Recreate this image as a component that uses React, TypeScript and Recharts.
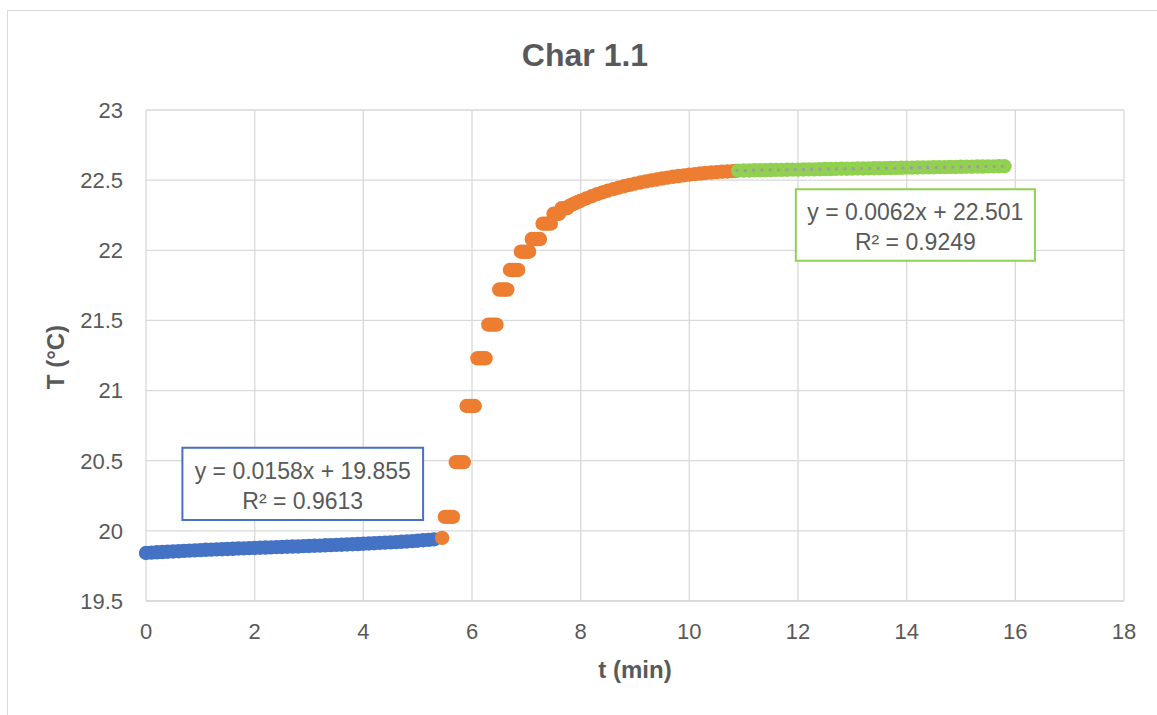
import React from 'react';
import { ScatterChart, Scatter, XAxis, YAxis, CartesianGrid, ReferenceArea } from 'recharts';

const FONT = '"Liberation Sans", Arial, sans-serif';
const TEXT = '#595959';
const GRID = '#d9d9d9';
const BLUE = '#4472C4';
const ORANGE = '#ED7D31';
const GREEN = '#92D050';

const xTicks = [0, 2, 4, 6, 8, 10, 12, 14, 16, 18];
const yTicks = [19.5, 20, 20.5, 21, 21.5, 22, 22.5, 23];

// Series 1 (before mixing)
const tBlue = [0, 0.1, 0.2, 0.3, 0.4, 0.5, 0.6, 0.7, 0.8, 0.9, 1.0, 1.1, 1.2, 1.3, 1.4, 1.5, 1.6, 1.7, 1.8, 1.9,
  2.0, 2.1, 2.2, 2.3, 2.4, 2.5, 2.6, 2.7, 2.8, 2.9, 3.0, 3.1, 3.2, 3.3, 3.4, 3.5, 3.6, 3.7, 3.8, 3.9,
  4.0, 4.1, 4.2, 4.3, 4.4, 4.5, 4.6, 4.7, 4.8, 4.9, 5.0, 5.1, 5.2, 5.3];
const TBlue = [19.842, 19.845, 19.847, 19.849, 19.851, 19.853, 19.855, 19.857, 19.859, 19.861,
  19.863, 19.865, 19.866, 19.868, 19.869, 19.871, 19.872, 19.874, 19.875, 19.877,
  19.878, 19.880, 19.881, 19.882, 19.884, 19.885, 19.887, 19.888, 19.889, 19.891,
  19.892, 19.894, 19.895, 19.897, 19.898, 19.900, 19.901, 19.903, 19.905, 19.906,
  19.908, 19.910, 19.912, 19.914, 19.916, 19.918, 19.920, 19.922, 19.924, 19.927,
  19.930, 19.933, 19.936, 19.939];

// Series 2 (rise)
const tOrange = [5.45, 5.50, 5.55, 5.60, 5.65, 5.70, 5.75, 5.80, 5.85, 5.90, 5.95, 6.00, 6.05,
  6.10, 6.15, 6.20, 6.25, 6.30, 6.35, 6.40, 6.45, 6.50, 6.55, 6.60, 6.65, 6.70, 6.75, 6.80, 6.85,
  6.90, 6.95, 7.00, 7.05, 7.10, 7.15, 7.20, 7.25, 7.30, 7.35, 7.40, 7.45, 7.50, 7.55, 7.60,
  7.65, 7.70, 7.75, 7.80, 7.85, 7.90, 7.95, 8.0, 8.1, 8.2, 8.3, 8.4, 8.5, 8.6, 8.7, 8.8, 8.9,
  9.0, 9.1, 9.2, 9.3, 9.4, 9.5, 9.6, 9.7, 9.8, 9.9, 10.0, 10.1, 10.2, 10.3, 10.4, 10.5, 10.6,
  10.7, 10.8, 10.85];
const TOrange = [19.95, 20.10, 20.10, 20.10, 20.10, 20.49, 20.49, 20.49, 20.49, 20.89, 20.89, 20.89, 20.89,
  21.23, 21.23, 21.23, 21.23, 21.47, 21.47, 21.47, 21.47, 21.72, 21.72, 21.72, 21.72, 21.86, 21.86, 21.86, 21.86,
  21.99, 21.99, 21.99, 21.99, 22.08, 22.08, 22.08, 22.08, 22.19, 22.19, 22.19, 22.19, 22.26, 22.26, 22.26,
  22.30, 22.30, 22.30, 22.318, 22.327, 22.336, 22.345, 22.353, 22.369, 22.385, 22.400, 22.413, 22.425, 22.436,
  22.447, 22.457, 22.466, 22.475, 22.483, 22.491, 22.498, 22.505, 22.512, 22.518, 22.524, 22.529, 22.534,
  22.539, 22.543, 22.547, 22.551, 22.554, 22.557, 22.560, 22.562, 22.564, 22.565];

// Series 3 (after mixing)
const tGreen = [10.9, 11.0, 11.1, 11.2, 11.3, 11.4, 11.5, 11.6, 11.7, 11.8, 11.9, 12.0, 12.1, 12.2, 12.3, 12.4,
  12.5, 12.6, 12.7, 12.8, 12.9, 13.0, 13.1, 13.2, 13.3, 13.4, 13.5, 13.6, 13.7, 13.8, 13.9, 14.0, 14.1, 14.2,
  14.3, 14.4, 14.5, 14.6, 14.7, 14.8, 14.9, 15.0, 15.1, 15.2, 15.3, 15.4, 15.5, 15.6, 15.7, 15.8];
const TGreen = [22.568, 22.569, 22.569, 22.570, 22.571, 22.571, 22.572, 22.573, 22.573, 22.574, 22.575, 22.575,
  22.576, 22.577, 22.577, 22.578, 22.579, 22.579, 22.580, 22.581, 22.581, 22.582, 22.583, 22.583, 22.584,
  22.585, 22.585, 22.586, 22.587, 22.587, 22.588, 22.589, 22.589, 22.590, 22.591, 22.591, 22.592, 22.593,
  22.593, 22.594, 22.594, 22.595, 22.596, 22.596, 22.597, 22.597, 22.598, 22.598, 22.599, 22.599];

// Trendline coefficients (from the chart's equations)
const greenSlope = 0.0062;
const greenIntercept = 22.501;

const blueEq = ['y = 0.0158x + 19.855', 'R² = 0.9613'];
const greenEq = ['y = 0.0062x + 22.501', 'R² = 0.9249'];

// Annotation box placement (data units)
const blueBox = { x1: 0.67, x2: 5.1, y1: 20.077, y2: 20.593 };
const greenBox = { x1: 11.96, x2: 16.36, y1: 21.926, y2: 22.435 };

const toPts = (t: number[], T: number[]) => t.map((x, i) => ({ t: x, T: T[i] }));
const blueData = toPts(tBlue, TBlue);
const orangeData = toPts(tOrange, TOrange);
const greenData = toPts(tGreen, TGreen);
const gStart = tGreen[0] - 0.05;
const gEnd = tGreen[tGreen.length - 1];
const greenTrend = [
  { t: gStart, T: greenSlope * gStart + greenIntercept },
  { t: gEnd, T: greenSlope * gEnd + greenIntercept },
];

const dot = (color: string) => (props: any) => (
  <circle cx={props.cx} cy={props.cy} r={7.2} fill={color} />
);

const eqLabel = (lines: string[]) => (p: any) => {
  const vb = p.viewBox || {};
  const cx = vb.x + vb.width / 2;
  return (
    <g>
      <text x={cx} y={vb.y + 23} textAnchor="middle" dominantBaseline="central" fill={TEXT} fontSize={23} fontFamily={FONT}>{lines[0]}</text>
      <text x={cx} y={vb.y + 53} textAnchor="middle" dominantBaseline="central" fill={TEXT} fontSize={23} fontFamily={FONT}>{lines[1]}</text>
    </g>
  );
};

export default function App() {
  return (
    <div style={{ position: 'absolute', left: 0, top: 0, width: 1157, height: 715, overflow: 'hidden', background: '#fff', fontFamily: FONT }}>
      <div style={{ position: 'absolute', left: 7, top: 10, width: 1300, height: 900, border: '1.5px solid #d9d9d9', boxSizing: 'border-box' }} />
      <div style={{ position: 'absolute', left: 0, top: 35, width: 1170, textAlign: 'center', fontSize: 32, fontWeight: 'bold', color: TEXT, lineHeight: '40px' }}>Char 1.1</div>
      <div style={{ position: 'absolute', left: 0, top: 655, width: 1270, textAlign: 'center', fontSize: 24, fontWeight: 'bold', color: TEXT, lineHeight: '30px' }}>t (min)</div>
      <div style={{ position: 'absolute', left: -44, top: 342, width: 200, height: 30, textAlign: 'center', fontSize: 24, fontWeight: 'bold', color: TEXT, lineHeight: '30px', transform: 'rotate(-90deg)' }}>T (°C)</div>
      <div style={{ position: 'absolute', left: 0, top: 0 }}>
        <ScatterChart width={1157} height={715} margin={{ top: 110, right: 33, bottom: 0, left: 0 }}>
          <CartesianGrid stroke={GRID} strokeWidth={1.3} />
          <XAxis
            type="number"
            dataKey="t"
            domain={[0, 18]}
            ticks={xTicks}
            height={114}
            tickLine={false}
            tickSize={0}
            tickMargin={22}
            axisLine={{ stroke: GRID, strokeWidth: 1.3 }}
            tick={{ fill: TEXT, fontSize: 22, fontFamily: FONT }}
          />
          <YAxis
            type="number"
            dataKey="T"
            domain={[19.5, 23]}
            ticks={yTicks}
            width={146}
            tickLine={false}
            tickSize={0}
            tickMargin={23}
            axisLine={false}
            tick={{ fill: TEXT, fontSize: 22, fontFamily: FONT }}
          />
          <ReferenceArea {...blueBox} fill="#fff" fillOpacity={1} stroke={BLUE} strokeWidth={2} ifOverflow="visible" label={eqLabel(blueEq)} />
          <ReferenceArea {...greenBox} fill="#fff" fillOpacity={1} stroke={GREEN} strokeWidth={2} ifOverflow="visible" label={eqLabel(greenEq)} />
          <Scatter data={blueData} fill={BLUE} shape={dot(BLUE)} isAnimationActive={false} />
          <Scatter data={orangeData} fill={ORANGE} shape={dot(ORANGE)} isAnimationActive={false} />
          <Scatter data={greenData} fill={GREEN} shape={dot(GREEN)} isAnimationActive={false} />
          <Scatter
            data={greenTrend}
            fill="none"
            shape={() => <g />}
            line={{ stroke: '#9f9f9f', strokeWidth: 3, strokeDasharray: '3 5.3' }}
            isAnimationActive={false}
          />
        </ScatterChart>
      </div>
    </div>
  );
}
